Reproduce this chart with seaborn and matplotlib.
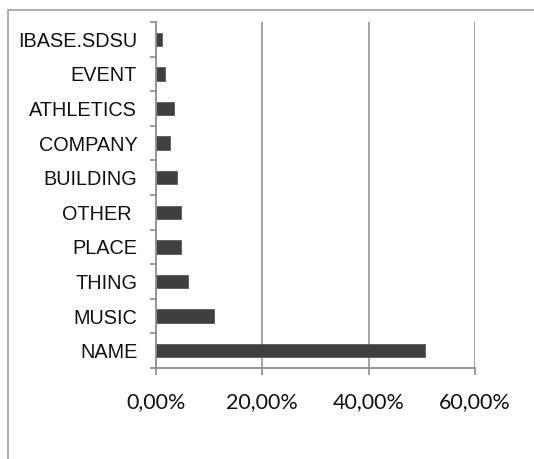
import matplotlib
matplotlib.use("Agg")
import matplotlib.pyplot as plt
import seaborn as sns
import pandas as pd
from matplotlib.patches import Rectangle
from matplotlib.ticker import FixedLocator, FuncFormatter

categories = ["IBASE.SDSU", "EVENT", "ATHLETICS", "COMPANY", "BUILDING",
              "OTHER ", "PLACE", "THING", "MUSIC", "NAME"]
shares = [1.2, 1.75, 3.3, 2.7, 3.9, 4.75, 4.75, 5.95, 10.95, 50.6]
x_ticks = [0, 20, 40, 60]

df = pd.DataFrame({"category": categories, "share": shares})

sns.set_style("white")
plt.rcParams["font.family"] = ["Liberation Sans", "DejaVu Sans"]

fig = plt.figure(figsize=(5.34, 4.59), dpi=100)
ax = fig.add_axes([156 / 534, 1 - 368 / 459, (475 - 156) / 534, (368 - 22) / 459])

sns.barplot(data=df, x="share", y="category", order=categories, orient="h",
            color="#404040", width=0.385, edgecolor="#5a5a5a", linewidth=0.6,
            saturation=1, ax=ax)

grid_col = "#8c8c8c"
ax.set_xlim(0, 60)
ax.set_ylim(len(categories) - 0.5, -0.5)
ax.xaxis.set_major_locator(FixedLocator(x_ticks))
ax.xaxis.set_major_formatter(FuncFormatter(lambda v, p: f"{v:.2f}".replace(".", ",") + "%"))
for v in x_ticks[1:]:
    ax.axvline(v, color=grid_col, lw=1.1, zorder=0)

for side in ["top", "right"]:
    ax.spines[side].set_visible(False)
for side in ["left", "bottom"]:
    ax.spines[side].set_color(grid_col)
    ax.spines[side].set_linewidth(1.3)

ax.yaxis.set_minor_locator(FixedLocator([i - 0.5 for i in range(len(categories) + 1)]))
ax.tick_params(axis="y", which="major", length=0, pad=13.5, labelsize=14.3, labelcolor="#111111")
ax.tick_params(axis="y", which="minor", left=True, length=4.3, width=1.2, color=grid_col)
ax.tick_params(axis="x", which="major", bottom=True, length=5, width=1.2, color=grid_col,
               pad=12, labelsize=15.5, labelcolor="#111111")
for lab in ax.get_xticklabels():
    lab.set_fontfamily(["Lato", "DejaVu Sans"])
ax.set_xlabel("")
ax.set_ylabel("")

# outer chart frame
fig.patches.append(Rectangle((8 / 534, -0.1), 1.2, 1 - 10 / 459 + 0.1,
                             transform=fig.transFigure, fill=False,
                             edgecolor="#a0a0a0", linewidth=1.2))

fig.savefig("out.png", dpi=100)
